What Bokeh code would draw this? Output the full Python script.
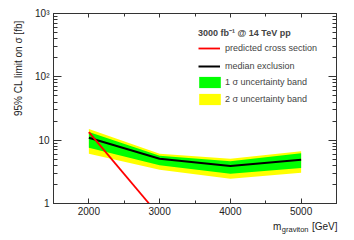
import math
from bokeh.plotting import figure
from bokeh.models import (FixedTicker, LinearAxis, LogAxis, Legend, LegendItem,
                          Label, Range1d)
from bokeh.embed import file_html
from bokeh.resources import INLINE

# ---- data ----
mass = [2000, 3000, 4000, 5000]
median = [10.9, 5.1, 3.9, 4.9]
one_sig_up = [13.4, 5.7, 4.65, 6.2]
one_sig_dn = [7.6, 4.0, 2.95, 3.65]
two_sig_up = [15.0, 6.1, 5.1, 6.7]
two_sig_dn = [6.1, 3.4, 2.45, 3.05]
xsec_mass = [2000, 2850]
xsec = [13.4, 1.0]

x_major = [2000, 3000, 4000, 5000]
x_minor = [1500, 2500, 3500, 4500, 5500]
y_major = [1, 10, 100, 1000]
y_labels = {1: "1", 10: "10", 100: "10²", 1000: "10³"}
y_minor = [m * 10 ** d for d in range(0, 3) for m in range(2, 10)]

FONT = "Liberation Sans"
AX = "#333333"
TXT = "#222222"
X0, X1, Y0, Y1 = 1500, 5500, 1, 1000
NB = "\u00a0"

p = figure(width=354, height=240, x_range=Range1d(X0, X1),
           y_range=Range1d(Y0, Y1), y_axis_type="log",
           output_backend="svg", toolbar_location=None,
           min_border_left=53, min_border_right=18,
           min_border_top=13, min_border_bottom=37)
p.background_fill_color = "white"
p.border_fill_color = "white"
p.outline_line_color = AX
p.xgrid.visible = False
p.ygrid.visible = False

yellow = p.varea(x=mass, y1=two_sig_dn, y2=two_sig_up, fill_color="#FFFF00")
green = p.varea(x=mass, y1=one_sig_dn, y2=one_sig_up, fill_color="#00FF00")
med = p.line(mass, median, line_color="black", line_width=2)
red = p.line(xsec_mass, xsec, line_color="#FF0000", line_width=1.8)

xt = FixedTicker(ticks=x_major, minor_ticks=x_minor)
yt = FixedTicker(ticks=y_major, minor_ticks=y_minor)

def style(ax, ticker, major_in, minor_in, labels=True):
    ax.ticker = ticker
    ax.axis_line_color = AX
    ax.major_tick_line_color = AX
    ax.minor_tick_line_color = AX
    ax.major_tick_in = major_in
    ax.major_tick_out = 0
    ax.minor_tick_in = minor_in
    ax.minor_tick_out = 0
    ax.major_label_text_font = FONT
    ax.major_label_text_color = TXT
    ax.major_label_text_font_size = "10px"
    ax.axis_label_text_font = FONT
    ax.axis_label_text_font_size = "10px"
    ax.axis_label_text_font_style = "normal"
    ax.axis_label_text_color = TXT
    if not labels:
        ax.major_label_text_color = None
        ax.major_label_standoff = 0

xax = p.xaxis[0]
yax = p.yaxis[0]
style(xax, xt, 5, 3)
xax.major_label_standoff = 3
style(yax, yt, 8, 4)
yax.major_label_standoff = 4
yax.axis_label_standoff = 8
yax.major_label_overrides = y_labels

# y title: centred axis label, padded at its start so that it sits near the top
y_title = "95% CL limit on σ [fb]"
yax.axis_label = NB * 29 + y_title

top = LinearAxis()
style(top, xt, 4, 3, labels=False)
p.add_layout(top, "above")
right = LogAxis()
style(right, yt, 8, 4, labels=False)
p.add_layout(right, "right")

# x title (side-panel labels, positioned in data units below the frame)
p.add_layout(Label(x=X1, x_offset=1, y=10 ** (-23 * 3 / 190),
                   text="m" + NB * 10 + " [GeV]", text_align="right",
                   text_baseline="middle", text_font=FONT,
                   text_font_size="10px", text_color=TXT), "below")
p.add_layout(Label(x=X1, x_offset=-28, y=10 ** (-25.5 * 3 / 190),
                   text="graviton", text_align="right", text_baseline="middle",
                   text_font=FONT, text_font_size="7.5px", text_color=TXT),
             "above")

# legends
leg1 = Legend(items=[LegendItem(label="predicted cross section", renderers=[red]),
                     LegendItem(label="median exclusion", renderers=[med])],
              location=(145, 131), title="3000 fb⁻¹ @ 14 TeV pp",
              title_text_font=FONT, title_text_font_size="9px",
              title_text_font_style="bold", title_standoff=3,
              glyph_width=22, glyph_height=12, label_height=12,
              label_standoff=5, spacing=6, padding=0, margin=0,
              border_line_color=None, background_fill_alpha=0,
              label_text_font=FONT, label_text_font_size="9px")
leg2 = Legend(items=[LegendItem(label="1 σ uncertainty band", renderers=[green]),
                     LegendItem(label="2 σ uncertainty band", renderers=[yellow])],
              location=(143, 97), glyph_width=27, glyph_height=14,
              label_height=14, label_standoff=2, spacing=3, padding=0, margin=0,
              border_line_color=None, background_fill_alpha=0,
              label_text_font=FONT, label_text_font_size="9px")
p.add_layout(leg1)
p.add_layout(leg2)

open("out.html", "w").write(file_html(p, INLINE))
